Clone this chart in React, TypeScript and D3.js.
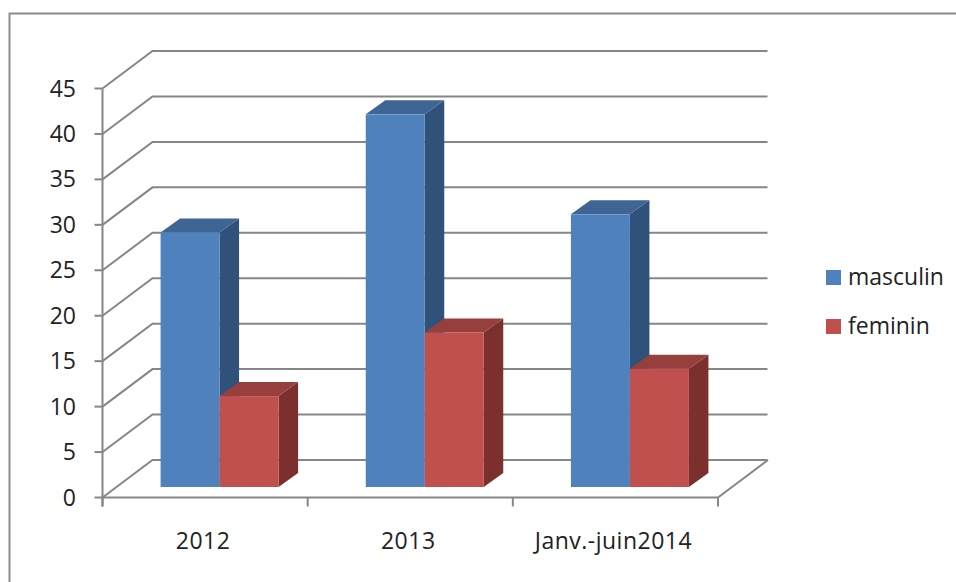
import React from "react";
import * as d3 from "d3";

const categories = ["2012", "2013", "Janv.-juin2014"];
const seriesNames = ["masculin", "feminin"];
const masculin = [28, 41, 30];
const feminin = [10, 17, 13];
const yTicks = [0, 5, 10, 15, 20, 25, 30, 35, 40, 45];

const frontColors = ["#4f81bd", "#c0504d"];
const topColors = ["#3e6594", "#963f3d"];
const sideColors = ["#30527a", "#7b302e"];
const gridColor = "#868686";
const textColor = "#222222";
const fontFamily = "'Open Sans', 'Noto Sans', sans-serif";

// Oblique projection of the plot box
const wallDx = 50;
const wallDy = -37.5;
const barDx = 19.5;
const barDy = -14;
const barBaseLift = 10.5;
const barWidth = 59;
const labelSize = 23;

const x = d3.scaleBand<string>().domain(categories).range([102.5, 718]);
const y = d3.scaleLinear().domain([0, 45]).range([497.5, 88.5]);

function Bar3D({ left, value, series }: { left: number; value: number; series: number }) {
  const base = y(0) - barBaseLift;
  const top = base - (y(0) - y(value));
  const right = left + barWidth;
  const poly = (pts: [number, number][]) => pts.map((p) => p.join(",")).join(" ");
  return (
    <g>
      <polygon
        fill={sideColors[series]}
        points={poly([
          [right, base],
          [right + barDx, base + barDy],
          [right + barDx, top + barDy],
          [right, top],
        ])}
      />
      <polygon
        fill={topColors[series]}
        points={poly([
          [left, top],
          [left + barDx, top + barDy],
          [right + barDx, top + barDy],
          [right, top],
        ])}
      />
      <rect x={left} y={top} width={barWidth} height={base - top} fill={frontColors[series]} />
    </g>
  );
}

export default function App() {
  const x0 = x.range()[0];
  const x1 = x.range()[1];
  const band = x.bandwidth();
  const tickEdges = [...categories.map((c) => x(c) as number), x1];
  const sw = 2;

  return (
    <svg
      width={956}
      height={582}
      style={{ position: "absolute", left: 0, top: 0, background: "#ffffff" }}
      fontFamily={fontFamily}
    >
      {/* Chart area border, cut off by the page on the right and bottom */}
      <path d="M9.5,582V13.5H956" fill="none" stroke="#8c8c8c" strokeWidth={2} />

      {/* Gridlines: slanted side segment plus back wall segment */}
      {yTicks.map((t) => (
        <path
          key={t}
          d={`M${x0},${y(t)}L${x0 + wallDx},${y(t) + wallDy}H${x1 + wallDx - 0.5}`}
          fill="none"
          stroke={gridColor}
          strokeWidth={sw}
        />
      ))}
      {/* Front and right edges of the floor */}
      <path
        d={`M${x0},${y(0)}H${x1}L${x1 + wallDx},${y(0) + wallDy}`}
        fill="none"
        stroke={gridColor}
        strokeWidth={sw}
      />
      {/* Value axis */}
      <line x1={x0} x2={x0} y1={y(45)} y2={y(0) + 9} stroke={gridColor} strokeWidth={sw} />
      {yTicks.map((t) => (
        <g key={t}>
          <line x1={x0 - 8} x2={x0} y1={y(t)} y2={y(t)} stroke={gridColor} strokeWidth={sw} />
          <text x={76} y={y(t) + 8} textAnchor="end" fontSize={labelSize} fill={textColor}>
            {t}
          </text>
        </g>
      ))}
      {/* Category axis */}
      {tickEdges.map((t) => (
        <line key={t} x1={t} x2={t} y1={y(0)} y2={y(0) + 9} stroke={gridColor} strokeWidth={sw} />
      ))}
      {categories.map((c) => (
        <text
          key={c}
          x={(x(c) as number) + band / 2 - 2}
          y={549}
          textAnchor="middle"
          fontSize={labelSize}
          letterSpacing={0.5}
          fill={textColor}
        >
          {c}
        </text>
      ))}

      {/* Bars: the red bar sits in front of the blue bar's side face */}
      {categories.map((c, i) => {
        const mid = (x(c) as number) + band / 2 + 14.5;
        return (
          <g key={c}>
            <Bar3D left={mid - barWidth} value={masculin[i]} series={0} />
            <Bar3D left={mid} value={feminin[i]} series={1} />
          </g>
        );
      })}

      {/* Legend */}
      {seriesNames.map((name, i) => (
        <g key={name}>
          <rect x={826} y={270 + i * 49} width={15} height={15} fill={frontColors[i]} />
          <text x={848} y={285 + i * 49} fontSize={labelSize} fill={textColor}>
            {name}
          </text>
        </g>
      ))}
    </svg>
  );
}
